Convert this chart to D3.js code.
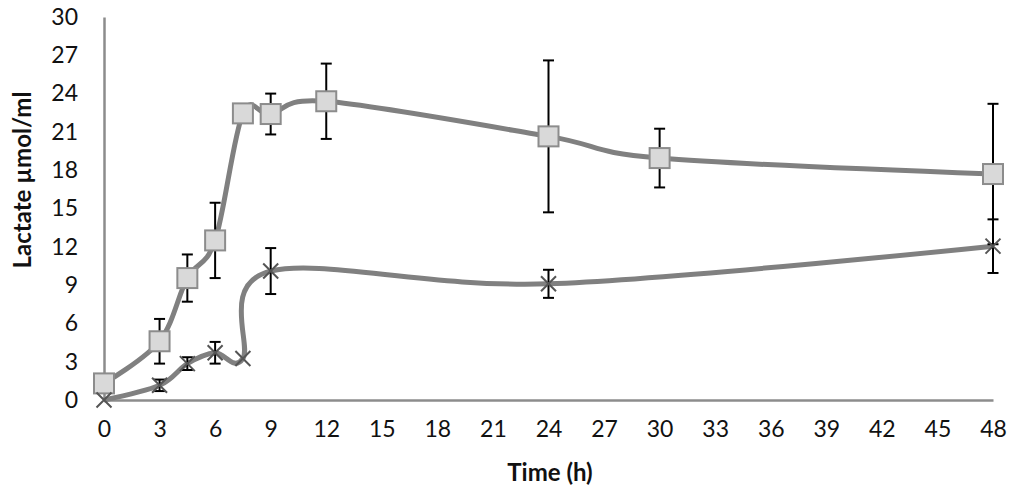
<!DOCTYPE html>
<html>
<head>
<meta charset="utf-8">
<script src="https://cdn.jsdelivr.net/npm/d3@7"></script>
<style>
  body { margin: 0; background: #fff; }
  svg text { font-family: Lato, "Open Sans", sans-serif; fill: #111; }
</style>
</head>
<body>
<svg id="chart"></svg>
<script>
// time points (h)
var hoursUpper = [0, 3, 4.5, 6, 7.5, 9, 12, 24, 30, 48];
var lactateUpper = [1.3, 4.6, 9.55, 12.5, 22.45, 22.4, 23.4, 20.65, 18.95, 17.7];
var errUpper = [0, 1.75, 1.85, 2.95, 0, 1.6, 2.95, 5.95, 2.3, 5.5];

var hoursLower = [0, 3, 4.5, 6, 7.5, 9, 24, 48];
var lactateLower = [0, 1.15, 2.85, 3.7, 3.25, 10.1, 9.1, 12.05];
var errLower = [0, 0.45, 0.5, 0.85, 0, 1.8, 1.1, 2.1];

var xTicks = d3.range(0, 49, 3);
var yTicks = d3.range(0, 31, 3);

var width = 1013, height = 498;
var margin = {top: 17, right: 20, bottom: 98, left: 104};

var svg = d3.select('#chart')
    .attr('width', width)
    .attr('height', height);

var x = d3.scaleLinear().domain([0, 48]).range([margin.left, 993]);
var y = d3.scaleLinear().domain([0, 30]).range([400, margin.top]);

// axes - labels only, grey domain lines
var xAxis = d3.axisBottom(x).tickValues(xTicks).tickSize(0).tickPadding(30);
var yAxis = d3.axisLeft(y).tickValues(yTicks).tickSize(0).tickPadding(26);

var xg = svg.append('g').attr('transform', 'translate(0,400)').call(xAxis);
var yg = svg.append('g').attr('transform', 'translate(' + x(0) + ',0)').call(yAxis);
[xg, yg].forEach(g => {
    g.select('.domain').attr('stroke', '#8c8c8c').attr('stroke-width', 2.5);
    g.selectAll('text').style('font-size', '23px').attr('fill', '#111');
});
xg.selectAll('text').attr('dy', '0.3em');

svg.append('text')
    .attr('x', 550)
    .attr('y', 481)
    .attr('text-anchor', 'middle')
    .style('font-size', '24px')
    .style('font-weight', 'bold')
    .text('Time (h)');

svg.append('text')
    .attr('transform', 'translate(31,180) rotate(-90)')
    .attr('text-anchor', 'middle')
    .style('font-size', '24px')
    .style('font-weight', 'bold')
    .text('Lactate  \u00b5mol/ml');

var upper = hoursUpper.map((h, i) => ({h: h, v: lactateUpper[i], e: errUpper[i]}));
var lower = hoursLower.map((h, i) => ({h: h, v: lactateLower[i], e: errLower[i]}));

var line = d3.line()
    .x(d => x(d.h))
    .y(d => y(d.v))
    .curve(d3.curveCardinal.tension(0));

[lower, upper].forEach(s => {
    svg.append('path')
        .datum(s)
        .attr('d', line)
        .attr('fill', 'none')
        .attr('stroke', '#808080')
        .attr('stroke-width', 5)
        .attr('stroke-linejoin', 'round');
});

// error bars
function errorBars(s) {
    var g = svg.append('g').attr('stroke', '#000').attr('stroke-width', 2);
    s.filter(d => d.e > 0).forEach(d => {
        var cx = x(d.h);
        g.append('line').attr('x1', cx).attr('x2', cx).attr('y1', y(d.v + d.e)).attr('y2', y(d.v - d.e));
        g.append('line').attr('x1', cx - 5.5).attr('x2', cx + 5.5).attr('y1', y(d.v + d.e)).attr('y2', y(d.v + d.e));
        g.append('line').attr('x1', cx - 5.5).attr('x2', cx + 5.5).attr('y1', y(d.v - d.e)).attr('y2', y(d.v - d.e));
    });
}
errorBars(upper);
errorBars(lower);

// markers
svg.append('g').selectAll('rect')
    .data(upper)
    .join('rect')
    .attr('x', d => x(d.h) - 10)
    .attr('y', d => y(d.v) - 10)
    .attr('width', 20)
    .attr('height', 20)
    .attr('fill', '#d9d9d9')
    .attr('stroke', '#8c8c8c')
    .attr('stroke-width', 2);

svg.append('g').selectAll('path')
    .data(lower)
    .join('path')
    .attr('d', d => {
        var cx = x(d.h), cy = y(d.v), r = 7.5;
        return 'M' + (cx - r) + ',' + (cy - r) + 'L' + (cx + r) + ',' + (cy + r) +
               'M' + (cx - r) + ',' + (cy + r) + 'L' + (cx + r) + ',' + (cy - r);
    })
    .attr('stroke', '#555')
    .attr('stroke-width', 2)
    .attr('fill', 'none');
</script>
</body>
</html>
